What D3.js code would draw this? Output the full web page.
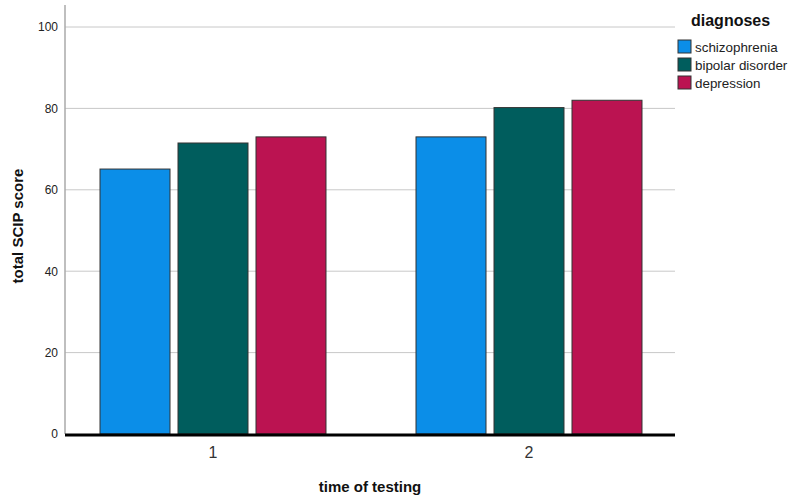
<!DOCTYPE html>
<html>
<head>
<meta charset="utf-8">
<script src="https://cdn.jsdelivr.net/npm/d3@7"></script>
<style>
  body { margin: 0; background: #fff; }
  text { font-family: Arial, "Liberation Sans", sans-serif; }
</style>
</head>
<body>
<div id="okvir"></div>
<script>
const times = ["1", "2"];
const diagnoses = ["schizophrenia", "bipolar disorder", "depression"];
const schizophrenia = [65.1, 73.0];
const bipolar = [71.5, 80.2];
const depression = [73.0, 82.0];
const yTicks = [0, 20, 40, 60, 80, 100];
const colors = ["#0b8ee8", "#005d5d", "#bb1351"];

const series = [schizophrenia, bipolar, depression];

const sirina = 794, visina = 502;
const plot = { left: 65, right: 675, top: 5, bottom: 434 };

const svg = d3.select("#okvir").append("svg")
  .attr("width", sirina)
  .attr("height", visina);

const y = d3.scaleLinear().domain([0, 100]).range([plot.bottom, 27]);
const x0 = d3.scaleBand().domain(times).range([55, 687]);
const x1 = d3.scaleBand().domain(diagnoses)
  .range([0, x0.bandwidth()])
  .paddingInner(8 / 78)
  .paddingOuter(0.577);

// gridlines
svg.append("g").selectAll("line")
  .data(yTicks.filter(d => d > 0))
  .enter().append("line")
    .attr("x1", plot.left).attr("x2", plot.right)
    .attr("y1", d => y(d)).attr("y2", d => y(d))
    .attr("stroke", "#c8c8c8").attr("stroke-width", 1);

// y axis
const yAxis = svg.append("g")
  .attr("transform", `translate(${plot.left},0)`)
  .call(d3.axisLeft(y).tickValues(yTicks).tickSize(0).tickPadding(7));
yAxis.select(".domain").remove();
yAxis.selectAll("text").attr("font-size", 12).attr("fill", "#222");
svg.append("line")
  .attr("x1", plot.left).attr("x2", plot.left)
  .attr("y1", plot.top).attr("y2", plot.bottom)
  .attr("stroke", "#aaa").attr("stroke-width", 1.5);

// bars
const groups = svg.append("g").selectAll("g")
  .data(times)
  .enter().append("g")
    .attr("transform", d => `translate(${x0(d)},0)`);

groups.selectAll("rect")
  .data((t, i) => diagnoses.map((name, k) => ({ name, k, value: series[k][i] })))
  .enter().append("rect")
    .attr("x", d => x1(d.name))
    .attr("y", d => y(d.value))
    .attr("width", x1.bandwidth())
    .attr("height", d => plot.bottom - y(d.value))
    .attr("fill", d => colors[d.k])
    .attr("stroke", "#333")
    .attr("stroke-width", 1);

// x axis
svg.append("line")
  .attr("x1", plot.left).attr("x2", plot.right)
  .attr("y1", plot.bottom + 1).attr("y2", plot.bottom + 1)
  .attr("stroke", "#000").attr("stroke-width", 3);

svg.append("g").selectAll("text")
  .data(times)
  .enter().append("text")
    .attr("x", d => x0(d) + x0.bandwidth() / 2)
    .attr("y", 458)
    .attr("text-anchor", "middle")
    .attr("font-size", 16)
    .attr("fill", "#333")
    .text(d => d);

// axis titles
svg.append("text")
  .attr("x", 370).attr("y", 492)
  .attr("text-anchor", "middle")
  .attr("font-size", 15).attr("font-weight", "bold")
  .attr("fill", "#111")
  .text("time of testing");

svg.append("text")
  .attr("transform", "translate(23,226) rotate(-90)")
  .attr("text-anchor", "middle")
  .attr("font-size", 15).attr("font-weight", "bold")
  .attr("fill", "#111")
  .text("total SCIP score");

// legend
svg.append("text")
  .attr("x", 691).attr("y", 26)
  .attr("font-size", 16).attr("font-weight", "bold")
  .attr("fill", "#111")
  .text("diagnoses");

const legend = svg.append("g").selectAll("g")
  .data(diagnoses)
  .enter().append("g")
    .attr("transform", (d, i) => `translate(678,${40 + i * 18})`);

legend.append("rect")
  .attr("width", 13).attr("height", 13)
  .attr("fill", (d, i) => colors[i])
  .attr("stroke", "#333").attr("stroke-width", 1);

legend.append("text")
  .attr("x", 17).attr("y", 11.5)
  .attr("font-size", 13.4).attr("fill", "#222")
  .text(d => d);
</script>
</body>
</html>
